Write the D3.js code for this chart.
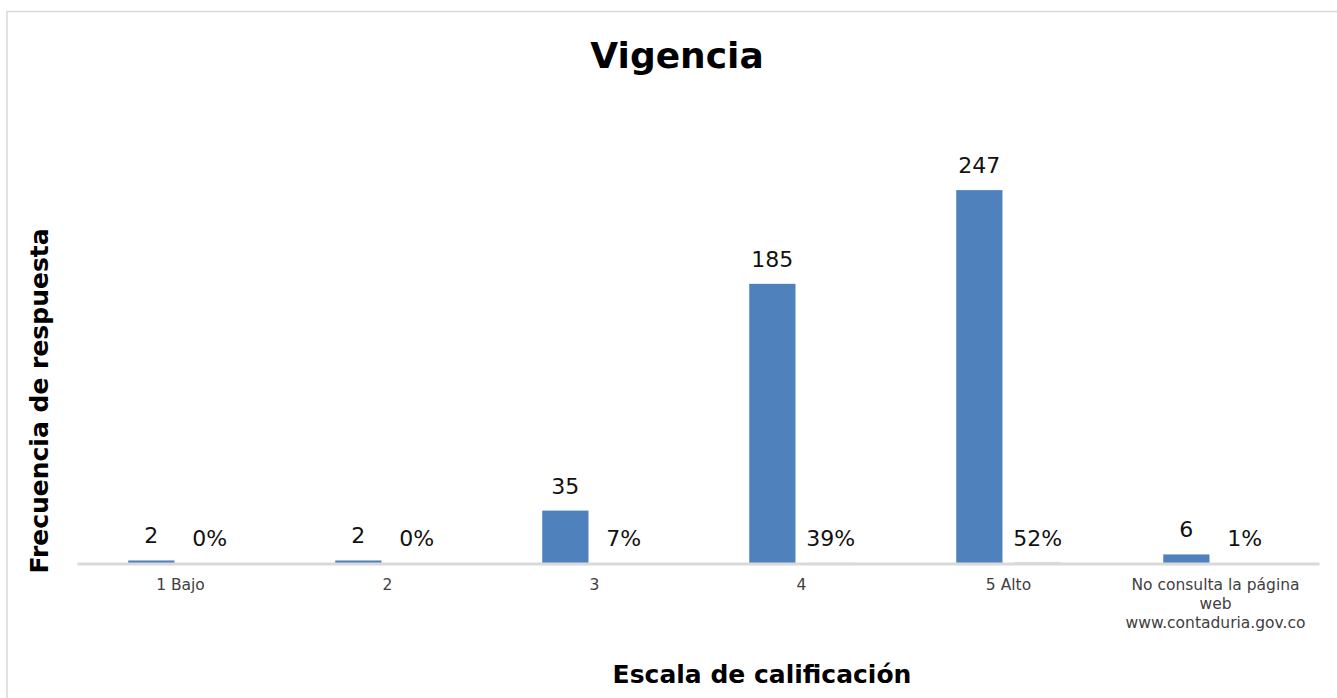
<!DOCTYPE html>
<html>
<head>
<meta charset="utf-8">
<script src="https://cdn.jsdelivr.net/npm/d3@7"></script>
<style>
  body { margin: 0; background: #fff; }
  svg { display: block; }
  text { font-family: "DejaVu Sans", "Noto Sans", sans-serif; }
</style>
</head>
<body>
<div id="chart"></div>
<script>
// data
var categories = ["1 Bajo", "2", "3", "4", "5 Alto", "No consulta la página web www.contaduria.gov.co"];
var tickLines = [["1 Bajo"], ["2"], ["3"], ["4"], ["5 Alto"], ["No consulta la página", "web", "www.contaduria.gov.co"]];
var frecuencia = [2, 2, 35, 185, 247, 6];
var porcentaje = [0.004, 0.004, 0.073, 0.388, 0.518, 0.013];
var yTicks = [0, 300];

var svgWidth = 1337;
var svgHeight = 698;

var margin = { top: 110, bottom: 134.5, left: 77, right: 18 };
var width = svgWidth - margin.left - margin.right;
var height = svgHeight - margin.top - margin.bottom;

var svg = d3.select("#chart")
  .append("svg")
  .attr("width", svgWidth)
  .attr("height", svgHeight);

// outer frame
svg.append("rect")
  .attr("x", 7).attr("y", 11.5)
  .attr("width", svgWidth + 10).attr("height", svgHeight + 10)
  .attr("fill", "none")
  .attr("stroke", "#d9d9d9")
  .attr("stroke-width", 1.5);

var chartGroup = svg.append("g")
  .attr("transform", `translate(${margin.left}, ${margin.top})`);

var rows = categories.map(function(c, i) {
  return { cat: c, lines: tickLines[i], freq: frecuencia[i], pct: porcentaje[i] };
});

var x0 = d3.scaleBand()
  .domain(categories)
  .range([0, width])
  .padding(0);

var x1 = d3.scaleBand()
  .domain(["freq", "pct"])
  .range([0, x0.bandwidth()])
  .paddingInner(12 / 58)
  .paddingOuter(51 / 58);

var y = d3.scaleLinear()
  .domain(d3.extent(yTicks))
  .range([height, 0]);

// bars
chartGroup.append("g").selectAll("rect")
  .data(rows)
  .enter()
  .append("rect")
  .attr("x", d => x0(d.cat) + x1("freq"))
  .attr("y", d => y(d.freq))
  .attr("width", x1.bandwidth())
  .attr("height", d => height - y(d.freq))
  .attr("fill", "#4f81bd");

chartGroup.append("g").selectAll("rect")
  .data(rows)
  .enter()
  .append("rect")
  .attr("x", d => x0(d.cat) + x1("pct"))
  .attr("y", d => y(d.pct))
  .attr("width", x1.bandwidth())
  .attr("height", d => height - y(d.pct))
  .attr("fill", "#4f81bd");

// axis line (drawn over the bars, hides the tiny percentage bars like the original)
var bottomAxis = d3.axisBottom(x0).tickSize(0).tickFormat("");
var xAxis = chartGroup.append("g")
  .attr("transform", `translate(0, ${height})`)
  .call(bottomAxis);
xAxis.select(".domain").attr("stroke", "#d9d9d9").attr("stroke-width", 3);

// tick labels
var ticks = chartGroup.append("g").selectAll("text")
  .data(rows)
  .enter()
  .append("text")
  .attr("x", d => x0(d.cat) + x0.bandwidth() / 2)
  .attr("y", height + 26)
  .attr("text-anchor", "middle")
  .attr("fill", "#404040")
  .style("font-size", "15.5px");

ticks.selectAll("tspan")
  .data(d => d.lines.map(l => ({ l: l, x: x0(d.cat) + x0.bandwidth() / 2 })))
  .enter()
  .append("tspan")
  .attr("x", d => d.x)
  .attr("dy", (d, i) => i === 0 ? 0 : 19)
  .text(d => d.l);

// value labels
chartGroup.append("g").selectAll("text")
  .data(rows)
  .enter()
  .append("text")
  .attr("x", d => x0(d.cat) + x1("freq") + x1.bandwidth() / 2)
  .attr("y", d => y(d.freq) - 17)
  .attr("text-anchor", "middle")
  .attr("fill", "#111")
  .style("font-size", "22px")
  .text(d => d.freq);

chartGroup.append("g").selectAll("text")
  .data(rows)
  .enter()
  .append("text")
  .attr("x", d => x0(d.cat) + x1("pct") + x1.bandwidth() / 2)
  .attr("y", d => y(d.pct) - 17)
  .attr("text-anchor", "middle")
  .attr("fill", "#111")
  .style("font-size", "22px")
  .text(d => d3.format(".0%")(d.pct));

// titles
svg.append("text")
  .attr("x", 677)
  .attr("y", 68)
  .attr("text-anchor", "middle")
  .style("font-size", "36px")
  .style("font-weight", "bold")
  .text("Vigencia");

svg.append("text")
  .attr("transform", "translate(48, 401) rotate(-90)")
  .attr("text-anchor", "middle")
  .style("font-size", "25px")
  .style("font-weight", "bold")
  .text("Frecuencia de respuesta");

svg.append("text")
  .attr("x", 762)
  .attr("y", 683)
  .attr("text-anchor", "middle")
  .style("font-size", "25px")
  .style("font-weight", "bold")
  .text("Escala de calificación");
</script>
</body>
</html>
